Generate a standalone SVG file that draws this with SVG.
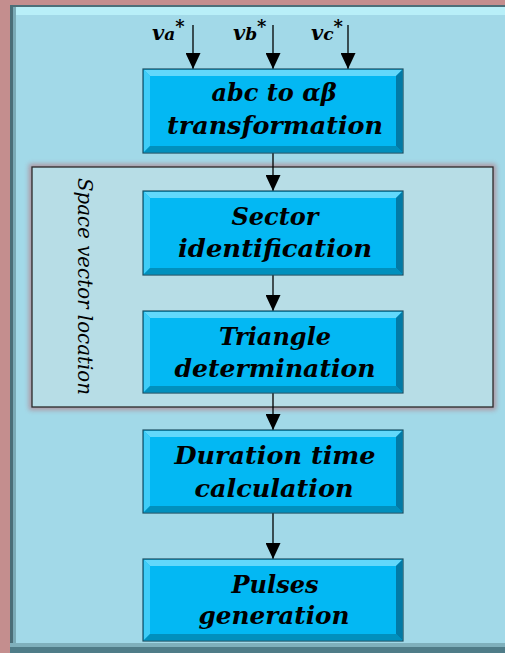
<svg xmlns="http://www.w3.org/2000/svg" width="505" height="653" viewBox="0 0 505 653">
<style>
.box{fill:#03b8f3;stroke:#1d4f62;stroke-width:1.2}
.bl{fill:#3fcdf8}
.bt{fill:#62d8fb}
.bd{fill:#0190bd}
.br{fill:#027aa6}
.t{font-family:"DejaVu Serif","Liberation Serif",serif;font-style:italic;font-weight:bold;font-size:24px;fill:#000;text-anchor:middle}
.in{font-family:"DejaVu Serif","Liberation Serif",serif;font-style:italic;font-weight:bold;font-size:21px;fill:#000}
.c{stroke:#000;stroke-width:1.3;fill:none;marker-end:url(#ah)}
</style>
<defs>
<marker id="ah" markerWidth="16" markerHeight="15" refX="16" refY="7.5" orient="auto" markerUnits="userSpaceOnUse">
<path d="M0,0 L16,7.5 L0,15 Z" fill="#000"/>
</marker>
<filter id="glow" x="-10%" y="-10%" width="120%" height="120%"><feGaussianBlur stdDeviation="2.5"/></filter>
</defs>
<rect x="0" y="0" width="505" height="653" fill="#c48e8e"/>
<g id="panel">
<rect x="10" y="5" width="495" height="648" fill="#a2d9e8"/>
<rect x="12" y="6" width="493" height="9" fill="#b8eff8"/>
<rect x="10" y="5" width="495" height="2" fill="#4d6f78"/>
<rect x="10" y="5" width="3" height="648" fill="#4a6e78"/>
<rect x="13" y="7" width="3" height="646" fill="#7aaab6"/>
<rect x="10" y="643" width="495" height="4" fill="#7fb0bc"/>
<rect x="10" y="647" width="495" height="6" fill="#4f7c88"/>
</g>
<g id="space-vector-location">
<rect x="29" y="164" width="467" height="246" fill="#b08c98" opacity="0.9" filter="url(#glow)"/>
<rect x="32" y="167" width="461" height="240" fill="#b7dde6" stroke="#2a2a2a" stroke-width="1.3"/>
<text transform="translate(78,178) rotate(90)" font-family="DejaVu Serif,Liberation Serif,serif" font-style="italic" font-size="20" fill="#000" textLength="217" lengthAdjust="spacingAndGlyphs">Space vector location</text>
</g>
<g id="inputs">
<text class="in" x="152" y="40">v<tspan font-size="17">a</tspan><tspan font-size="18" dy="-7">*</tspan></text>
<text class="in" x="233" y="40">v<tspan font-size="17">b</tspan><tspan font-size="18" dy="-7">*</tspan></text>
<text class="in" x="311" y="40">v<tspan font-size="17">c</tspan><tspan font-size="18" dy="-7">*</tspan></text>
</g>
<g id="connectors">
<line class="c" x1="193" y1="25" x2="193" y2="69"/>
<line class="c" x1="273" y1="25" x2="273" y2="69"/>
<line class="c" x1="348" y1="25" x2="348" y2="69"/>
<line class="c" x1="273" y1="153" x2="273" y2="191"/>
<line class="c" x1="273" y1="275" x2="273" y2="311"/>
<line class="c" x1="273" y1="393" x2="273" y2="430"/>
<line class="c" x1="273" y1="513" x2="273" y2="559"/>
</g>
<g id="abc-to-alphabeta">
<rect class="box" x="143" y="69" width="260" height="84"/>
<polygon class="bt" points="144,70 402,70 396,76 150,76"/>
<polygon class="bl" points="144,70 150,76 150,146 144,152"/>
<polygon class="bd" points="144,152 150,146 396,146 402,152"/>
<polygon class="br" points="402,70 402,152 396,146 396,76"/>
<text class="t" x="274" y="101">abc to αβ</text>
<text class="t" x="275" y="134" textLength="216" lengthAdjust="spacingAndGlyphs">transformation</text>
</g>
<g id="sector-identification">
<rect class="box" x="143" y="191" width="260" height="84"/>
<polygon class="bt" points="144,192 402,192 396,198 150,198"/>
<polygon class="bl" points="144,192 150,198 150,268 144,274"/>
<polygon class="bd" points="144,274 150,268 396,268 402,274"/>
<polygon class="br" points="402,192 402,274 396,268 396,198"/>
<text class="t" x="275" y="225">Sector</text>
<text class="t" x="275" y="257" textLength="194" lengthAdjust="spacingAndGlyphs">identification</text>
</g>
<g id="triangle-determination">
<rect class="box" x="143" y="311" width="260" height="82"/>
<polygon class="bt" points="144,312 402,312 396,318 150,318"/>
<polygon class="bl" points="144,312 150,318 150,386 144,392"/>
<polygon class="bd" points="144,392 150,386 396,386 402,392"/>
<polygon class="br" points="402,312 402,392 396,386 396,318"/>
<text class="t" x="275" y="345">Triangle</text>
<text class="t" x="275" y="377" textLength="201" lengthAdjust="spacingAndGlyphs">determination</text>
</g>
<g id="duration-time-calculation">
<rect class="box" x="143" y="430" width="260" height="83"/>
<polygon class="bt" points="144,431 402,431 396,437 150,437"/>
<polygon class="bl" points="144,431 150,437 150,506 144,512"/>
<polygon class="bd" points="144,512 150,506 396,506 402,512"/>
<polygon class="br" points="402,431 402,512 396,506 396,437"/>
<text class="t" x="275" y="464" textLength="201" lengthAdjust="spacingAndGlyphs">Duration time</text>
<text class="t" x="274" y="497" textLength="159" lengthAdjust="spacingAndGlyphs">calculation</text>
</g>
<g id="pulses-generation">
<rect class="box" x="143" y="559" width="260" height="82"/>
<polygon class="bt" points="144,560 402,560 396,566 150,566"/>
<polygon class="bl" points="144,560 150,566 150,634 144,640"/>
<polygon class="bd" points="144,640 150,634 396,634 402,640"/>
<polygon class="br" points="402,560 402,640 396,634 396,566"/>
<text class="t" x="275" y="593">Pulses</text>
<text class="t" x="274" y="624" textLength="151" lengthAdjust="spacingAndGlyphs">generation</text>
</g>
</svg>
